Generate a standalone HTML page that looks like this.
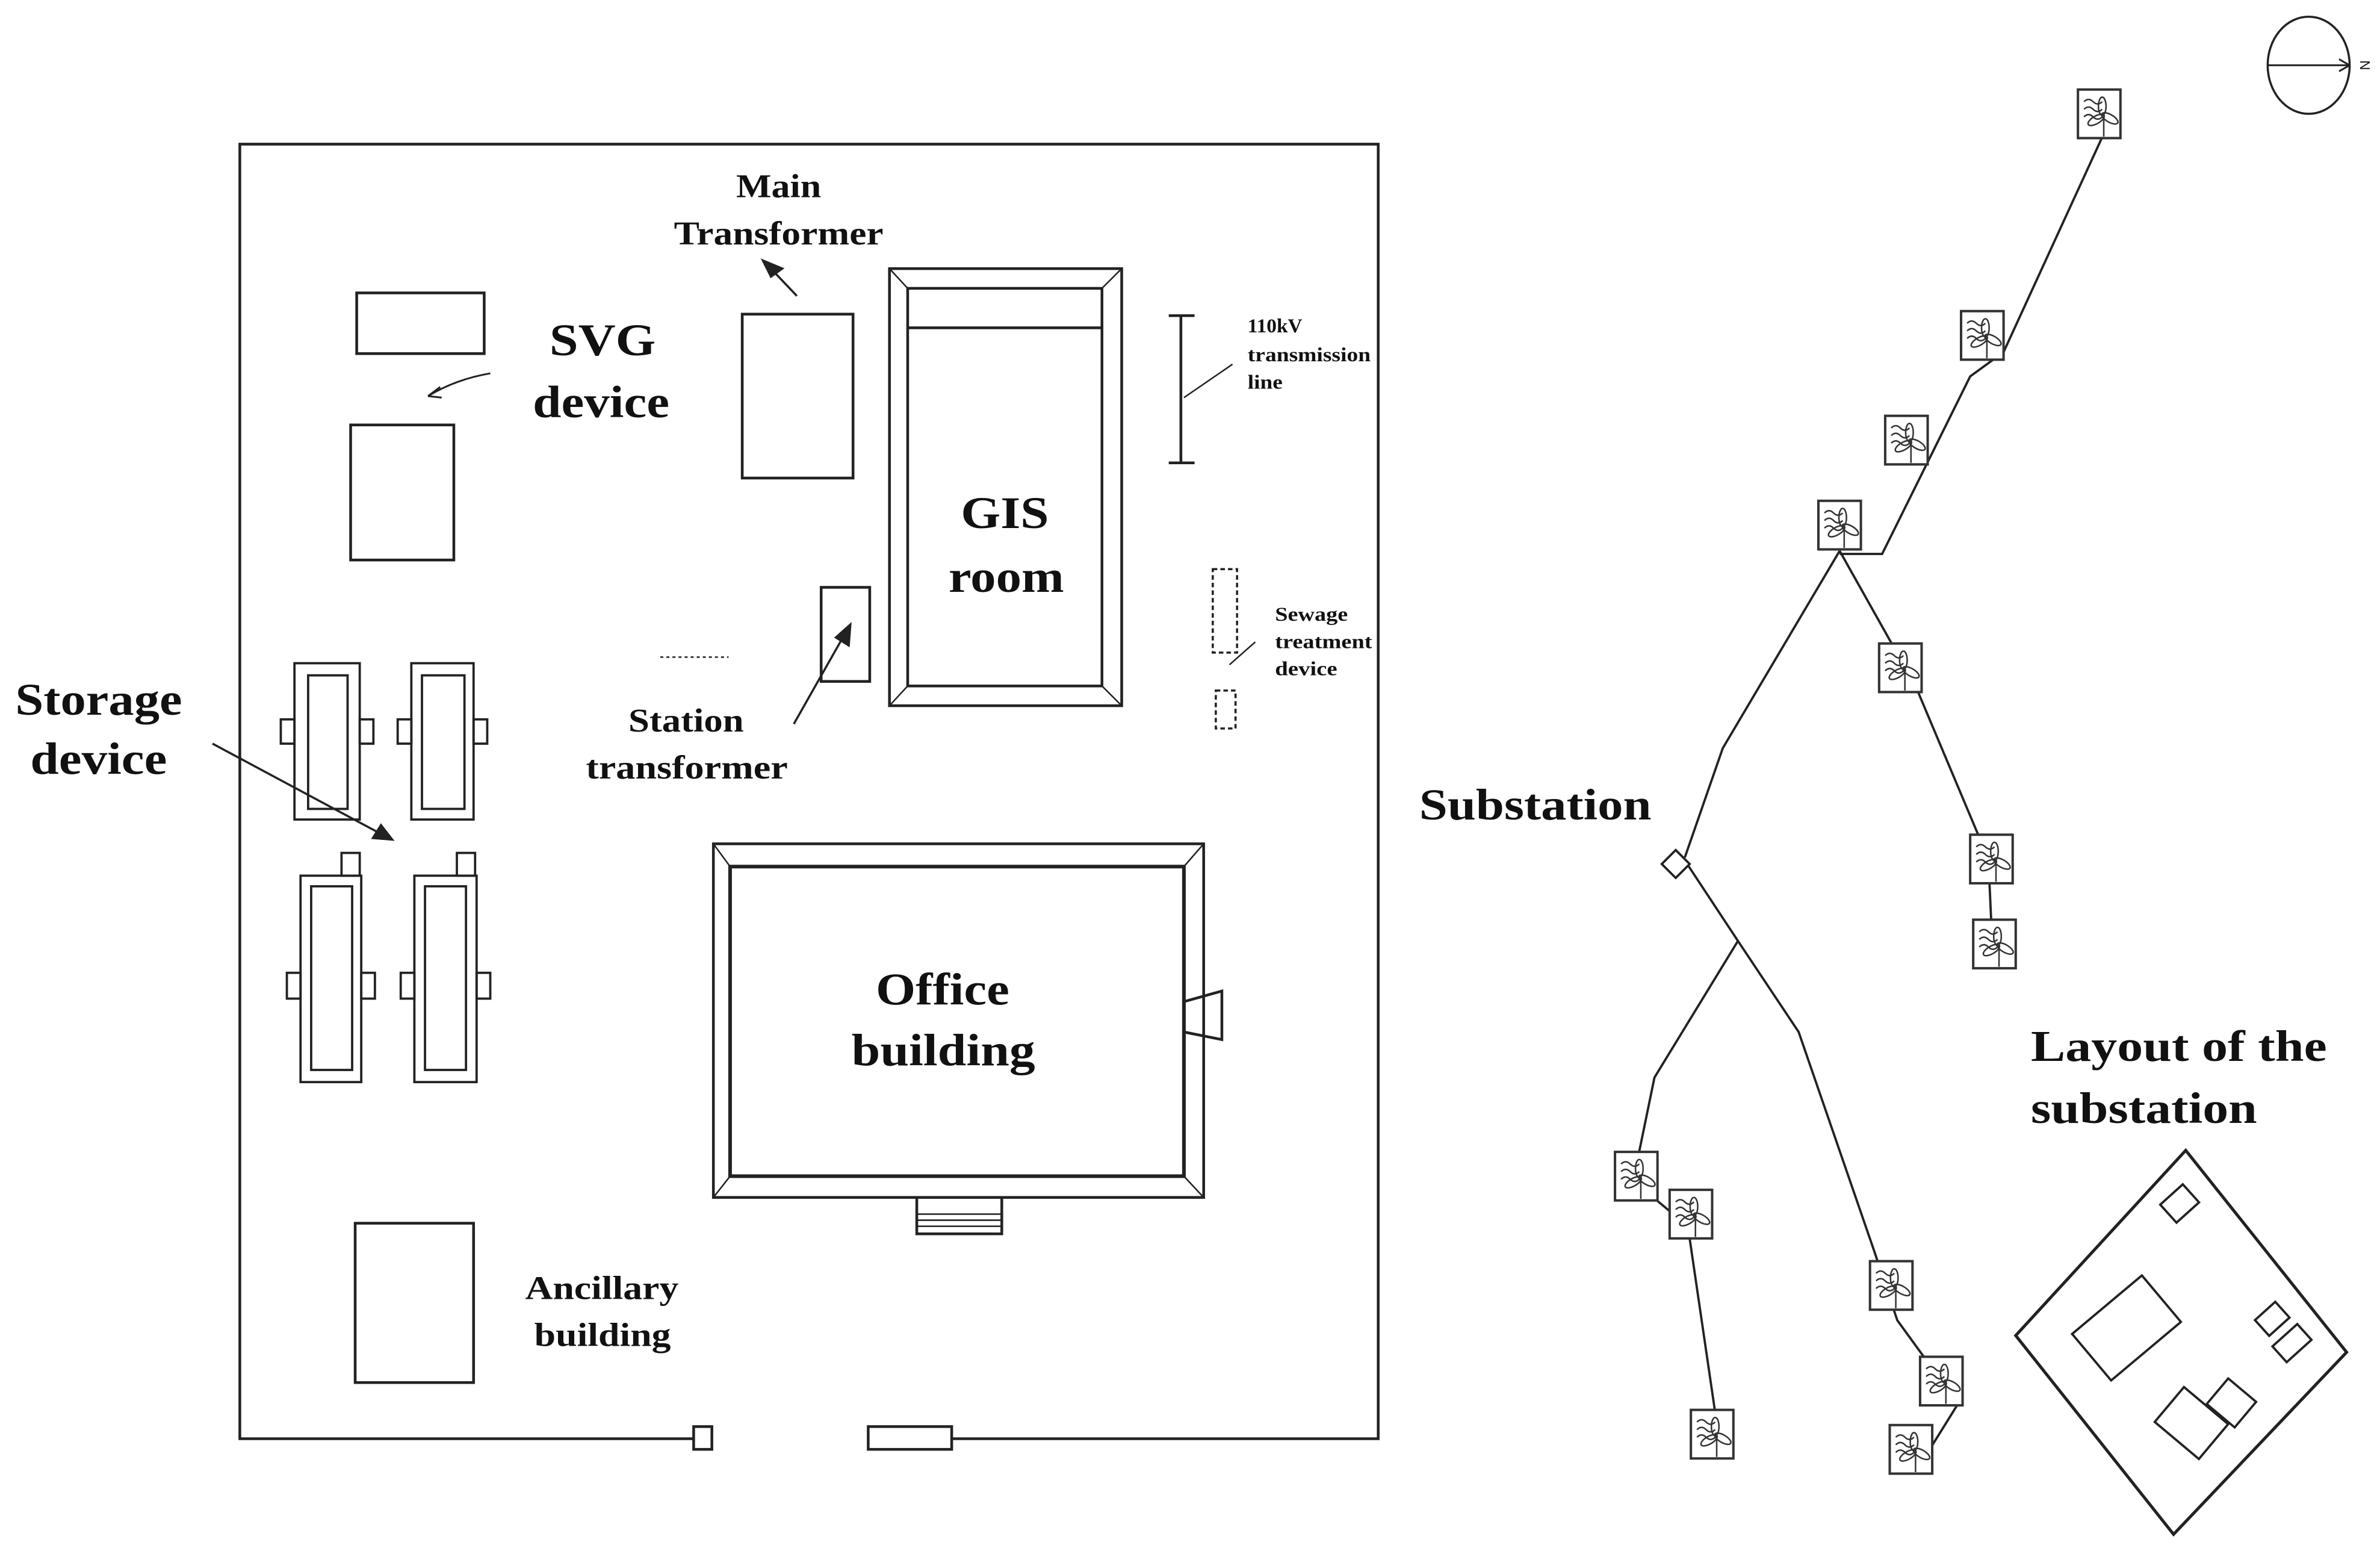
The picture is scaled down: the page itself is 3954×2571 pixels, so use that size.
<!DOCTYPE html>
<html><head><style>html,body{margin:0;padding:0;background:#fff}svg{display:block}</style></head><body>
<svg width="3954" height="2571" viewBox="0 0 1568 1020" preserveAspectRatio="none" xmlns="http://www.w3.org/2000/svg" font-family="Liberation Serif, serif" font-weight="bold">
<defs>
<g id="t">
<rect x="-14" y="-16" width="28" height="32" fill="#fff" stroke="#333" stroke-width="1.6"/>
<path d="M-10,-8 q3,-3 6,0 q3,3 6,0 M-10,-3 q3,-3 6,0 q3,3 6,0 M-10,2 q3,-3 6,0 q3,3 6,0" fill="none" stroke="#333" stroke-width="1"/>
<ellipse cx="2" cy="-5" rx="2.5" ry="6" fill="none" stroke="#333" stroke-width="1"/>
<ellipse cx="7" cy="3" rx="6" ry="2.5" fill="none" stroke="#333" stroke-width="1" transform="rotate(30 7 3)"/>
<ellipse cx="-2" cy="4" rx="6" ry="2.5" fill="none" stroke="#333" stroke-width="1" transform="rotate(-30 -2 4)"/>
<line x1="3" y1="1" x2="3" y2="15" stroke="#333" stroke-width="1"/>
</g>
</defs>
<g fill="none" stroke="#222" stroke-width="1.8">
<polyline points="457,948 158,948 158,95 908,95 908,948 627,948"/>
<rect x="457" y="940" width="12" height="15"/>
<rect x="572" y="940" width="55" height="15"/>
<rect x="235" y="193" width="84" height="40"/>
<rect x="231" y="280" width="68" height="89"/>
<path d="M323,246 Q300,250 282,261" stroke-width="1.2"/>
<path d="M282,261 l8,-6 M282,261 l9,1" stroke-width="1.2"/>
<rect x="489" y="207" width="73" height="108"/>
<line x1="525" y1="195" x2="506" y2="175" stroke-width="1.4"/>
<path d="M503,172 l12,5 l-7,5 z" fill="#222"/>
<rect x="586" y="177" width="153" height="288"/>
<rect x="598" y="190" width="128" height="262"/>
<line x1="598" y1="216" x2="726" y2="216"/>
<path d="M586,177 L598,190 M739,177 L726,190 M586,465 L598,452 M739,465 L726,452" stroke-width="1"/>
<line x1="778" y1="208" x2="778" y2="305"/>
<line x1="770" y1="208" x2="787" y2="208"/>
<line x1="770" y1="305" x2="787" y2="305"/>
<line x1="812" y1="240" x2="780" y2="262" stroke-width="1"/>
<rect x="541" y="387" width="32" height="62"/>
<line x1="523" y1="477" x2="557" y2="417" stroke-width="1.4"/>
<path d="M560,412 l-1,13 l-8,-5 z" fill="#222"/>
<line x1="435" y1="433" x2="480" y2="433" stroke-dasharray="2,2" stroke-width="1"/>
<rect x="799" y="375" width="16" height="55" stroke-dasharray="3,2" stroke-width="1.4"/>
<rect x="801" y="455" width="13" height="25" stroke-dasharray="3,2" stroke-width="1.4"/>
<line x1="827" y1="423" x2="810" y2="438" stroke-width="1"/>
<g stroke-width="1.5">
<rect x="194" y="437" width="43" height="103"/><rect x="203" y="445" width="26" height="88"/>
<rect x="185" y="474" width="9" height="16"/><rect x="237" y="474" width="9" height="16"/>
<rect x="271" y="437" width="41" height="103"/><rect x="278" y="445" width="28" height="88"/>
<rect x="262" y="474" width="9" height="16"/><rect x="312" y="474" width="9" height="16"/>
<rect x="198" y="577" width="40" height="136"/><rect x="205" y="584" width="27" height="121"/>
<rect x="225" y="562" width="12" height="15"/>
<rect x="189" y="641" width="9" height="17"/><rect x="238" y="641" width="9" height="17"/>
<rect x="273" y="577" width="41" height="136"/><rect x="280" y="584" width="27" height="121"/>
<rect x="301" y="562" width="12" height="15"/>
<rect x="264" y="641" width="9" height="17"/><rect x="314" y="641" width="9" height="17"/>
</g>
<line x1="140" y1="490" x2="252" y2="550" stroke-width="1.4"/>
<path d="M258,553 l-12,-1 l5,-8 z" fill="#222"/>
<rect x="470" y="556" width="323" height="233"/>
<rect x="481" y="571" width="299" height="204" stroke-width="2.4"/>
<path d="M470,556 L481,571 M793,556 L780,571 M470,789 L481,775 M793,789 L780,775" stroke-width="1"/>
<path d="M780,660 L805,653 L805,685 L780,680" />
<rect x="604" y="789" width="56" height="24"/>
<path d="M604,800 H660 M604,804 H660 M604,808 H660" stroke-width="1"/>
<rect x="234" y="806" width="78" height="105"/>
<ellipse cx="1521" cy="43" rx="27" ry="32" stroke-width="1.4"/>
<line x1="1494" y1="43" x2="1548" y2="43" stroke-width="1.2"/>
<path d="M1548,43 l-7,-4 M1548,43 l-7,4" stroke-width="1.2"/>
<g stroke-width="1.5">
<polyline points="1387,86 1320,232 1298,248 1240,365 1212,365"/>
<polyline points="1212,363 1135,493 1110,565"/>
<polyline points="1212,363 1262,452 1310,566 1313,632"/>
<polyline points="1112,570 1145,620 1185,680 1235,825 1250,870 1290,925 1262,970"/>
<polyline points="1145,620 1090,710 1076,778 1112,808 1134,958"/>
</g>
<rect x="1097" y="563" width="13" height="13" transform="rotate(45 1104 570)" fill="#fff" stroke-width="1.5"/>
<polygon points="1440,758 1546,891 1432,1011 1328,880" stroke-width="2"/>
<rect x="1426" y="785" width="20" height="16" transform="rotate(-42 1436 793)" stroke-width="1.5"/>
<rect x="1371" y="855" width="60" height="40" transform="rotate(-40 1401 875)" stroke-width="1.5"/>
<rect x="1488" y="862" width="18" height="14" transform="rotate(-42 1497 869)" stroke-width="1.5"/>
<rect x="1499" y="878" width="22" height="14" transform="rotate(-42 1510 885)" stroke-width="1.5"/>
<rect x="1425" y="922" width="38" height="30" transform="rotate(40 1443 937)" stroke-width="1.5"/>
<rect x="1459" y="913" width="24" height="22" transform="rotate(40 1470 923)" stroke-width="1.5"/>
</g>
<g>
<use href="#t" x="1383" y="75"/><use href="#t" x="1306" y="221"/><use href="#t" x="1256" y="290"/>
<use href="#t" x="1212" y="346"/><use href="#t" x="1252" y="440"/><use href="#t" x="1312" y="566"/>
<use href="#t" x="1314" y="622"/><use href="#t" x="1078" y="775"/><use href="#t" x="1114" y="800"/>
<use href="#t" x="1128" y="945"/><use href="#t" x="1246" y="847"/><use href="#t" x="1279" y="910"/>
<use href="#t" x="1259" y="955"/>
</g>
<g fill="#111" lengthAdjust="spacingAndGlyphs">
<text x="362" y="234" font-size="30" textLength="70" lengthAdjust="spacingAndGlyphs">SVG</text>
<text x="351" y="275" font-size="30" textLength="90" lengthAdjust="spacingAndGlyphs">device</text>
<text x="485" y="130" font-size="22" textLength="56" lengthAdjust="spacingAndGlyphs">Main</text>
<text x="444" y="161" font-size="22" textLength="138" lengthAdjust="spacingAndGlyphs">Transformer</text>
<text x="633" y="348" font-size="30" textLength="58" lengthAdjust="spacingAndGlyphs">GIS</text>
<text x="625" y="390" font-size="30" textLength="76" lengthAdjust="spacingAndGlyphs">room</text>
<text x="414" y="482" font-size="22" textLength="76" lengthAdjust="spacingAndGlyphs">Station</text>
<text x="386" y="513" font-size="22" textLength="133" lengthAdjust="spacingAndGlyphs">transformer</text>
<text x="10" y="471" font-size="30" textLength="110" lengthAdjust="spacingAndGlyphs">Storage</text>
<text x="20" y="510" font-size="30" textLength="90" lengthAdjust="spacingAndGlyphs">device</text>
<text x="577" y="662" font-size="30" textLength="88" lengthAdjust="spacingAndGlyphs">Office</text>
<text x="561" y="702" font-size="30" textLength="121" lengthAdjust="spacingAndGlyphs">building</text>
<text x="346" y="856" font-size="22" textLength="101" lengthAdjust="spacingAndGlyphs">Ancillary</text>
<text x="352" y="887" font-size="22" textLength="90" lengthAdjust="spacingAndGlyphs">building</text>
<text x="822" y="219" font-size="13" textLength="36" lengthAdjust="spacingAndGlyphs">110kV</text>
<text x="822" y="238" font-size="13" textLength="81" lengthAdjust="spacingAndGlyphs">transmission</text>
<text x="822" y="256" font-size="13" textLength="23" lengthAdjust="spacingAndGlyphs">line</text>
<text x="840" y="409" font-size="13" textLength="48" lengthAdjust="spacingAndGlyphs">Sewage</text>
<text x="840" y="427" font-size="13" textLength="64" lengthAdjust="spacingAndGlyphs">treatment</text>
<text x="840" y="445" font-size="13" textLength="41" lengthAdjust="spacingAndGlyphs">device</text>
<text x="935" y="540" font-size="29" textLength="153" lengthAdjust="spacingAndGlyphs">Substation</text>
<text x="1338" y="699" font-size="29" textLength="195" lengthAdjust="spacingAndGlyphs">Layout of the</text>
<text x="1338" y="740" font-size="29" textLength="149" lengthAdjust="spacingAndGlyphs">substation</text>
</g>
<text x="1555" y="43" font-size="9" fill="#111" transform="rotate(90 1555 43)" text-anchor="middle" font-weight="normal" font-family="Liberation Sans, sans-serif">N</text>
</svg>
</body></html>
